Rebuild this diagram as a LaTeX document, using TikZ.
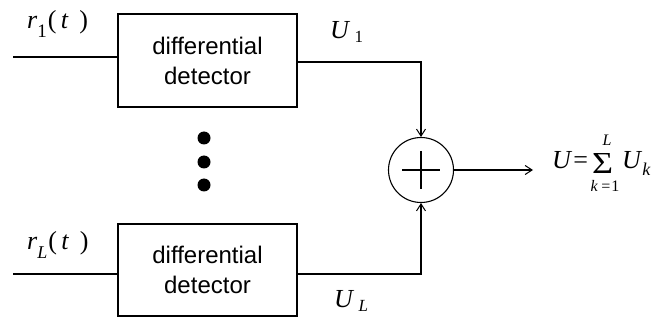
\documentclass[tikz,border=0pt]{standalone}
\usepackage{fontspec}
\setmainfont{Liberation Serif}
\newfontfamily\arialfont{Liberation Sans}
\usetikzlibrary{arrows.meta,calc}
\tikzset{
  detbox/.style={draw, line width=1.1pt, minimum width=179pt, minimum height=93pt,
    font=\arialfont\fontsize{24}{30}\selectfont, align=center, inner sep=0pt},
  wire/.style={line width=1.1pt},
  arr/.style={line width=1.1pt, -{Straight Barb[length=7pt,width=9pt,line width=1pt]}},
  lbl/.style={font=\fontsize{26}{30}\selectfont, inner sep=0pt},
  lim/.style={font=\fontsize{16}{18}\selectfont\itshape, inner sep=0pt},
  dotc/.style={circle, fill=black, minimum size=13pt, inner sep=0pt}
}
\begin{document}
\begin{tikzpicture}[x=1pt,y=-1pt]
\useasboundingbox (0,0) rectangle (653,323);
% boxes
\node[detbox] (b1) at (207.5,60.5) {differential\\detector};
\node[detbox, minimum height=92pt] (b2) at (207.5,270) {differential\\detector};
% summer
\node[circle, draw, line width=1.1pt, minimum size=65pt, inner sep=0pt] (sum) at (421,170) {};
\draw[wire] ($(sum.center)+(-19,0)$) -- ($(sum.center)+(19,0)$);
\draw[wire] ($(sum.center)+(0,-19)$) -- ($(sum.center)+(0,19)$);
% inputs
\coordinate (in1) at (13,57);
\coordinate (in2) at (13,274);
\draw[wire] (in1) -- (in1 -| b1.west);
\draw[wire] (in2) -- (in2 -| b2.west);
% outputs
\coordinate (o1) at (297,62);
\coordinate (o2) at (297,274);
\draw[arr] (o1 -| b1.east) -| (sum.north);
\draw[arr] (o2 -| b2.east) -| (sum.south);
\coordinate (out) at (533,170);
\draw[arr] (sum.east) -- (out);
% dots
\node[dotc] (d1) at (204,138) {};
\node[dotc] (d2) at (204,162) {};
\node[dotc] (d3) at (204,185) {};
% labels
\node[lbl, anchor=base west] (r1) at (27,29) {\textit{r}\raisebox{-9pt}{\fontsize{19}{20}\selectfont 1}\kern1pt(\,\textit{t}\, )};
\node[lbl, anchor=base west] (rL) at (27,249) {\textit{r}\raisebox{-9pt}{\fontsize{18}{20}\selectfont\textit{L}}\kern1pt(\,\textit{t}\, )};
\node[lbl, anchor=base west] (u1) at (330,39) {\textit{U}\,\raisebox{-4pt}{\fontsize{17}{20}\selectfont 1}};
\node[lbl, anchor=base west] (uL) at (334,307) {\textit{U}\,\raisebox{-4pt}{\fontsize{17}{20}\selectfont\textit{L}}};
% output sum label
\node[lbl, anchor=base west] (ueq) at (552,169) {\textit{U}\kern1pt=};
\node[inner sep=0pt] (sig) at (602.5,163) {\resizebox{21pt}{20pt}{Σ}};
\node[lim] (limL) at (607,140) {L};
\node[lim] (limk) at (605,186) {k\,=\upshape 1};
\node[lbl, anchor=base west] (uk) at (622,169) {\textit{U}\raisebox{-7pt}{\fontsize{18}{20}\selectfont\textit{k}}};
\end{tikzpicture}
\end{document}
